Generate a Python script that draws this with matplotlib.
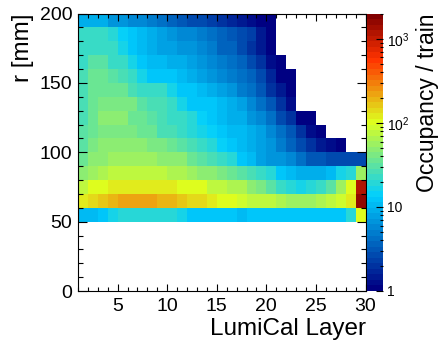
import numpy as np
import matplotlib
matplotlib.use("Agg")
import matplotlib.pyplot as plt
from matplotlib.colors import LinearSegmentedColormap, LogNorm
from matplotlib.ticker import MultipleLocator, FixedLocator, LogLocator, NullFormatter

plt.rcParams['font.family'] = ['Liberation Sans', 'DejaVu Sans']
plt.rcParams['mathtext.fontset'] = 'custom'
plt.rcParams['mathtext.rm'] = 'Liberation Sans'

# LumiCal layers 1..29 (bin edges 1..30), radial bins of 10 mm from 50 to 200 mm
layer_edges = np.arange(1, 31)
r_edges = np.arange(50, 210, 10)

# occupancy per train, one list per radial bin (r low edge), layers 1..n
r50 = [10, 11, 13, 16, 18, 18, 18, 18, 18, 18, 16, 13, 13, 13, 13, 13, 10.5, 11.5, 11.5, 11.5,
       11.5, 11.5, 11.5, 11.5, 11.5, 11.5, 12, 18, 100]
r60 = [125, 140, 155, 185, 215, 215, 215, 215, 195, 185, 160, 140, 130, 120, 108, 98, 88, 82, 78, 75,
       70, 60, 60, 60, 70, 78, 90, 115, 1500]
r70 = [80, 100, 108, 118, 118, 118, 118, 118, 118, 118, 106, 106, 98, 82, 82, 66, 66, 52, 40, 30,
       24, 19, 17, 20, 22, 30, 55, 100, 1150]
r80 = [47, 57, 65, 76, 76, 76, 76, 76, 76, 70, 63, 58, 52, 46, 40, 37, 32, 28, 23, 20,
       13, 11, 8.5, 8.5, 8.5, 11, 16, 19, 60]
r90 = [36, 45, 48, 55, 55, 55, 55, 55, 50, 50, 45, 33, 30, 25, 22, 18, 13, 11, 8, 7,
       6.5, 5.5, 4.3, 3.3, 3, 2.5, 2.5, 2.5, 2.5]
r100 = [32, 42, 48, 48, 48, 48, 48, 42, 42, 33, 30, 26, 21, 18, 14, 12, 11, 9.5, 8, 6.5,
        5, 3.7, 2.7, 2.1, 1.5, 1.2, 1.0]
r110 = [29, 36, 40, 40, 40, 40, 33, 33, 28, 28, 22, 19, 16, 14, 13, 11, 10, 8.5, 7.5, 6,
        4.5, 3.2, 1.9, 1.3, 1.0]
r120 = [27, 37, 46, 46, 46, 38, 38, 31, 27, 24, 21, 18, 14, 13, 10, 9, 8.5, 7, 6, 4.2,
        2.8, 1.9, 1.1, 1.0]
r130 = [28, 35, 44, 44, 40, 40, 31, 26, 26, 21, 17, 13, 12, 12, 10, 9, 7.5, 6, 4.5, 3.2,
        1.9, 1.3]
r140 = [27, 35, 35, 35, 35, 27, 23, 21, 21, 16, 13, 12, 11, 9, 7.5, 6.5, 5, 4.5, 3, 2,
        1.4, 1.05]
r150 = [26, 35, 35, 31, 27, 21, 16, 13, 12, 12, 10, 9, 8, 7, 6, 5, 4, 3.5, 2.7, 1.7,
        1.1, 1.0]
r160 = [23, 30, 30, 24, 21, 16, 13, 11, 10, 9, 9, 8, 7, 6, 5, 4.5, 3.8, 2.8, 1.9, 1.3,
        1.0]
r170 = [23, 23, 23, 21, 16, 12, 11, 9.5, 8, 7.5, 7, 6.5, 5.5, 5, 3.8, 3.5, 2.8, 2, 1.5, 1.0]
r180 = [21, 23, 23, 19, 15, 12, 10, 9, 7.5, 6.5, 6, 5.5, 5, 4.5, 3.8, 3.3, 2.8, 2.3, 1.4, 1.0]
r190 = [9, 9, 8.5, 7, 6.5, 5.5, 5.5, 5, 4.5, 3.8, 3.3, 2.8, 2.6, 2.3, 2.0, 1.7, 1.5, 1.3, 1.15, 1.0]

rows = [r50, r60, r70, r80, r90, r100, r110, r120, r130, r140, r150, r160, r170, r180, r190]
occ = np.full((len(rows), len(layer_edges) - 1), np.nan)
for i, row in enumerate(rows):
    occ[i, :len(row)] = row
occ = np.ma.masked_invalid(occ)

# ROOT style rainbow palette, 50 levels
cmap = LinearSegmentedColormap.from_list(
    "rootrainbow",
    [(0.00, (0.00, 0.00, 0.51)),
     (0.34, (0.00, 0.81, 1.00)),
     (0.61, (0.87, 1.00, 0.12)),
     (0.84, (1.00, 0.20, 0.00)),
     (1.00, (0.51, 0.00, 0.00))], N=50)

W, H = 440, 343
fig = plt.figure(figsize=(W / 100, H / 100), dpi=100)
ax = fig.add_axes([78 / W, 1 - 291 / H, (365.5 - 78) / W, (291 - 13.5) / H])
cax = fig.add_axes([367 / W, 1 - 291 / H, 16 / W, (291 - 13.5) / H])

mesh = ax.pcolormesh(layer_edges, r_edges, occ, cmap=cmap, norm=LogNorm(1, 2000))

ax.set_xlim(1, 30)
ax.set_ylim(0, 200)
ax.xaxis.set_major_locator(FixedLocator([5, 10, 15, 20, 25, 30]))
ax.xaxis.set_minor_locator(MultipleLocator(1))
ax.yaxis.set_major_locator(MultipleLocator(50))
ax.yaxis.set_minor_locator(MultipleLocator(10))
ax.tick_params(which='both', direction='in', top=True, right=True, labelsize=14, width=0.8)
ax.tick_params(axis='x', which='major', length=5, pad=5)
ax.tick_params(axis='x', which='minor', length=2.8)
ax.tick_params(axis='y', which='major', length=6.5, pad=4)
ax.tick_params(axis='y', which='minor', length=3.5)
for s in ax.spines.values():
    s.set_linewidth(0.8)
ax.set_xlabel('LumiCal Layer', loc='right', fontsize=17.5, labelpad=2)
ax.set_ylabel('r [mm]', loc='top', fontsize=17.5, labelpad=4)

cb = fig.colorbar(mesh, cax=cax)
cb.outline.set_visible(False)
cb.set_ticks([1, 10, 100, 1000])
cb.set_ticklabels(['1', '10', '$10^{2}$', '$10^{3}$'])
cax.yaxis.set_minor_locator(LogLocator(base=10, subs=np.arange(2, 10)))
cax.yaxis.set_minor_formatter(NullFormatter())
cax.tick_params(which='both', direction='in', labelsize=10, width=0.8, pad=3)
cax.tick_params(which='major', length=5)
cax.tick_params(which='minor', length=2.5)
cax.set_ylabel('Occupancy / train', loc='top', fontsize=16.5, labelpad=4.5)

fig.savefig('out.png', dpi=100)
